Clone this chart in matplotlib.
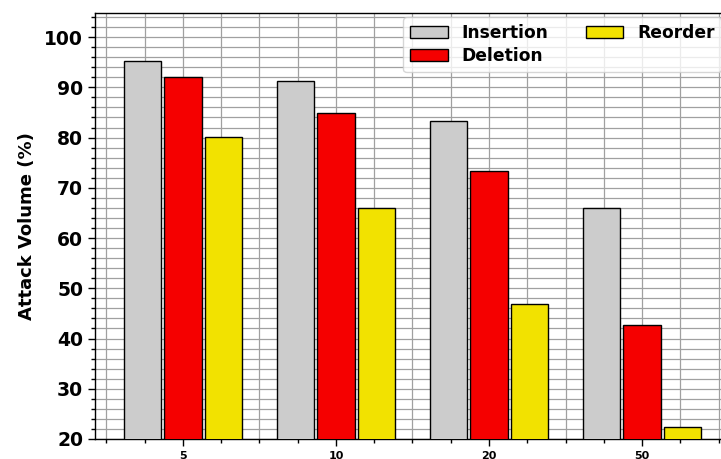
import matplotlib
matplotlib.use("Agg")
import matplotlib.pyplot as plt
import numpy as np
from matplotlib.ticker import MultipleLocator

categories = ["5", "10", "20", "50"]
insertion = [95.2, 91.2, 83.3, 66.0]
deletion = [92.0, 84.9, 73.4, 42.7]
reorder = [80.1, 66.0, 46.8, 22.4]
series_names = ["Insertion", "Deletion", "Reorder"]
colors = ["#cccccc", "#f50000", "#f2e200"]

W, H = 721, 459
fig = plt.figure(figsize=(W / 100, H / 100), dpi=100)
left, right_px, top, bottom = 95, 730, 13, 439
ax = fig.add_axes([left / W, 1 - bottom / H, (right_px - left) / W, (bottom - top) / H])

x = np.arange(len(categories))
width = 0.245
off = 0.265
for i, (vals, name, c) in enumerate(zip([insertion, deletion, reorder], series_names, colors)):
    ax.bar(x + (i - 1) * off, vals, width, color=c, edgecolor="black", linewidth=1.0,
           label=name, zorder=3)

ax.set_xlim(-0.575, 3.575)
ax.set_ylim(20, 104.8)
ax.set_xticks(x)
ax.set_xticklabels(categories, fontsize=8, fontweight="bold")
ax.xaxis.set_minor_locator(MultipleLocator(0.25))
ax.yaxis.set_major_locator(MultipleLocator(10))
ax.yaxis.set_minor_locator(MultipleLocator(2))
for lab in ax.get_yticklabels():
    lab.set_fontweight("bold")
    lab.set_fontsize(13.5)
ax.tick_params(axis="both", which="major", length=5, width=1)
ax.tick_params(axis="both", which="minor", length=3, width=1)
ax.set_ylabel("Attack Volume (%)", fontsize=13, fontweight="bold", labelpad=6)
ax.grid(True, which="both", color="#a0a0a0", linewidth=0.9, zorder=0)
ax.set_axisbelow(True)
for s in ax.spines.values():
    s.set_linewidth(1.0)

leg = ax.legend(loc="upper right", bbox_to_anchor=(0.993, 1.0), ncol=2,
                prop={"weight": "bold", "size": 12.3},
                framealpha=0.8, columnspacing=2.2, handlelength=2.2, handletextpad=0.8,
                borderaxespad=0.25, labelspacing=0.3)

fig.savefig("out.png", dpi=100)
